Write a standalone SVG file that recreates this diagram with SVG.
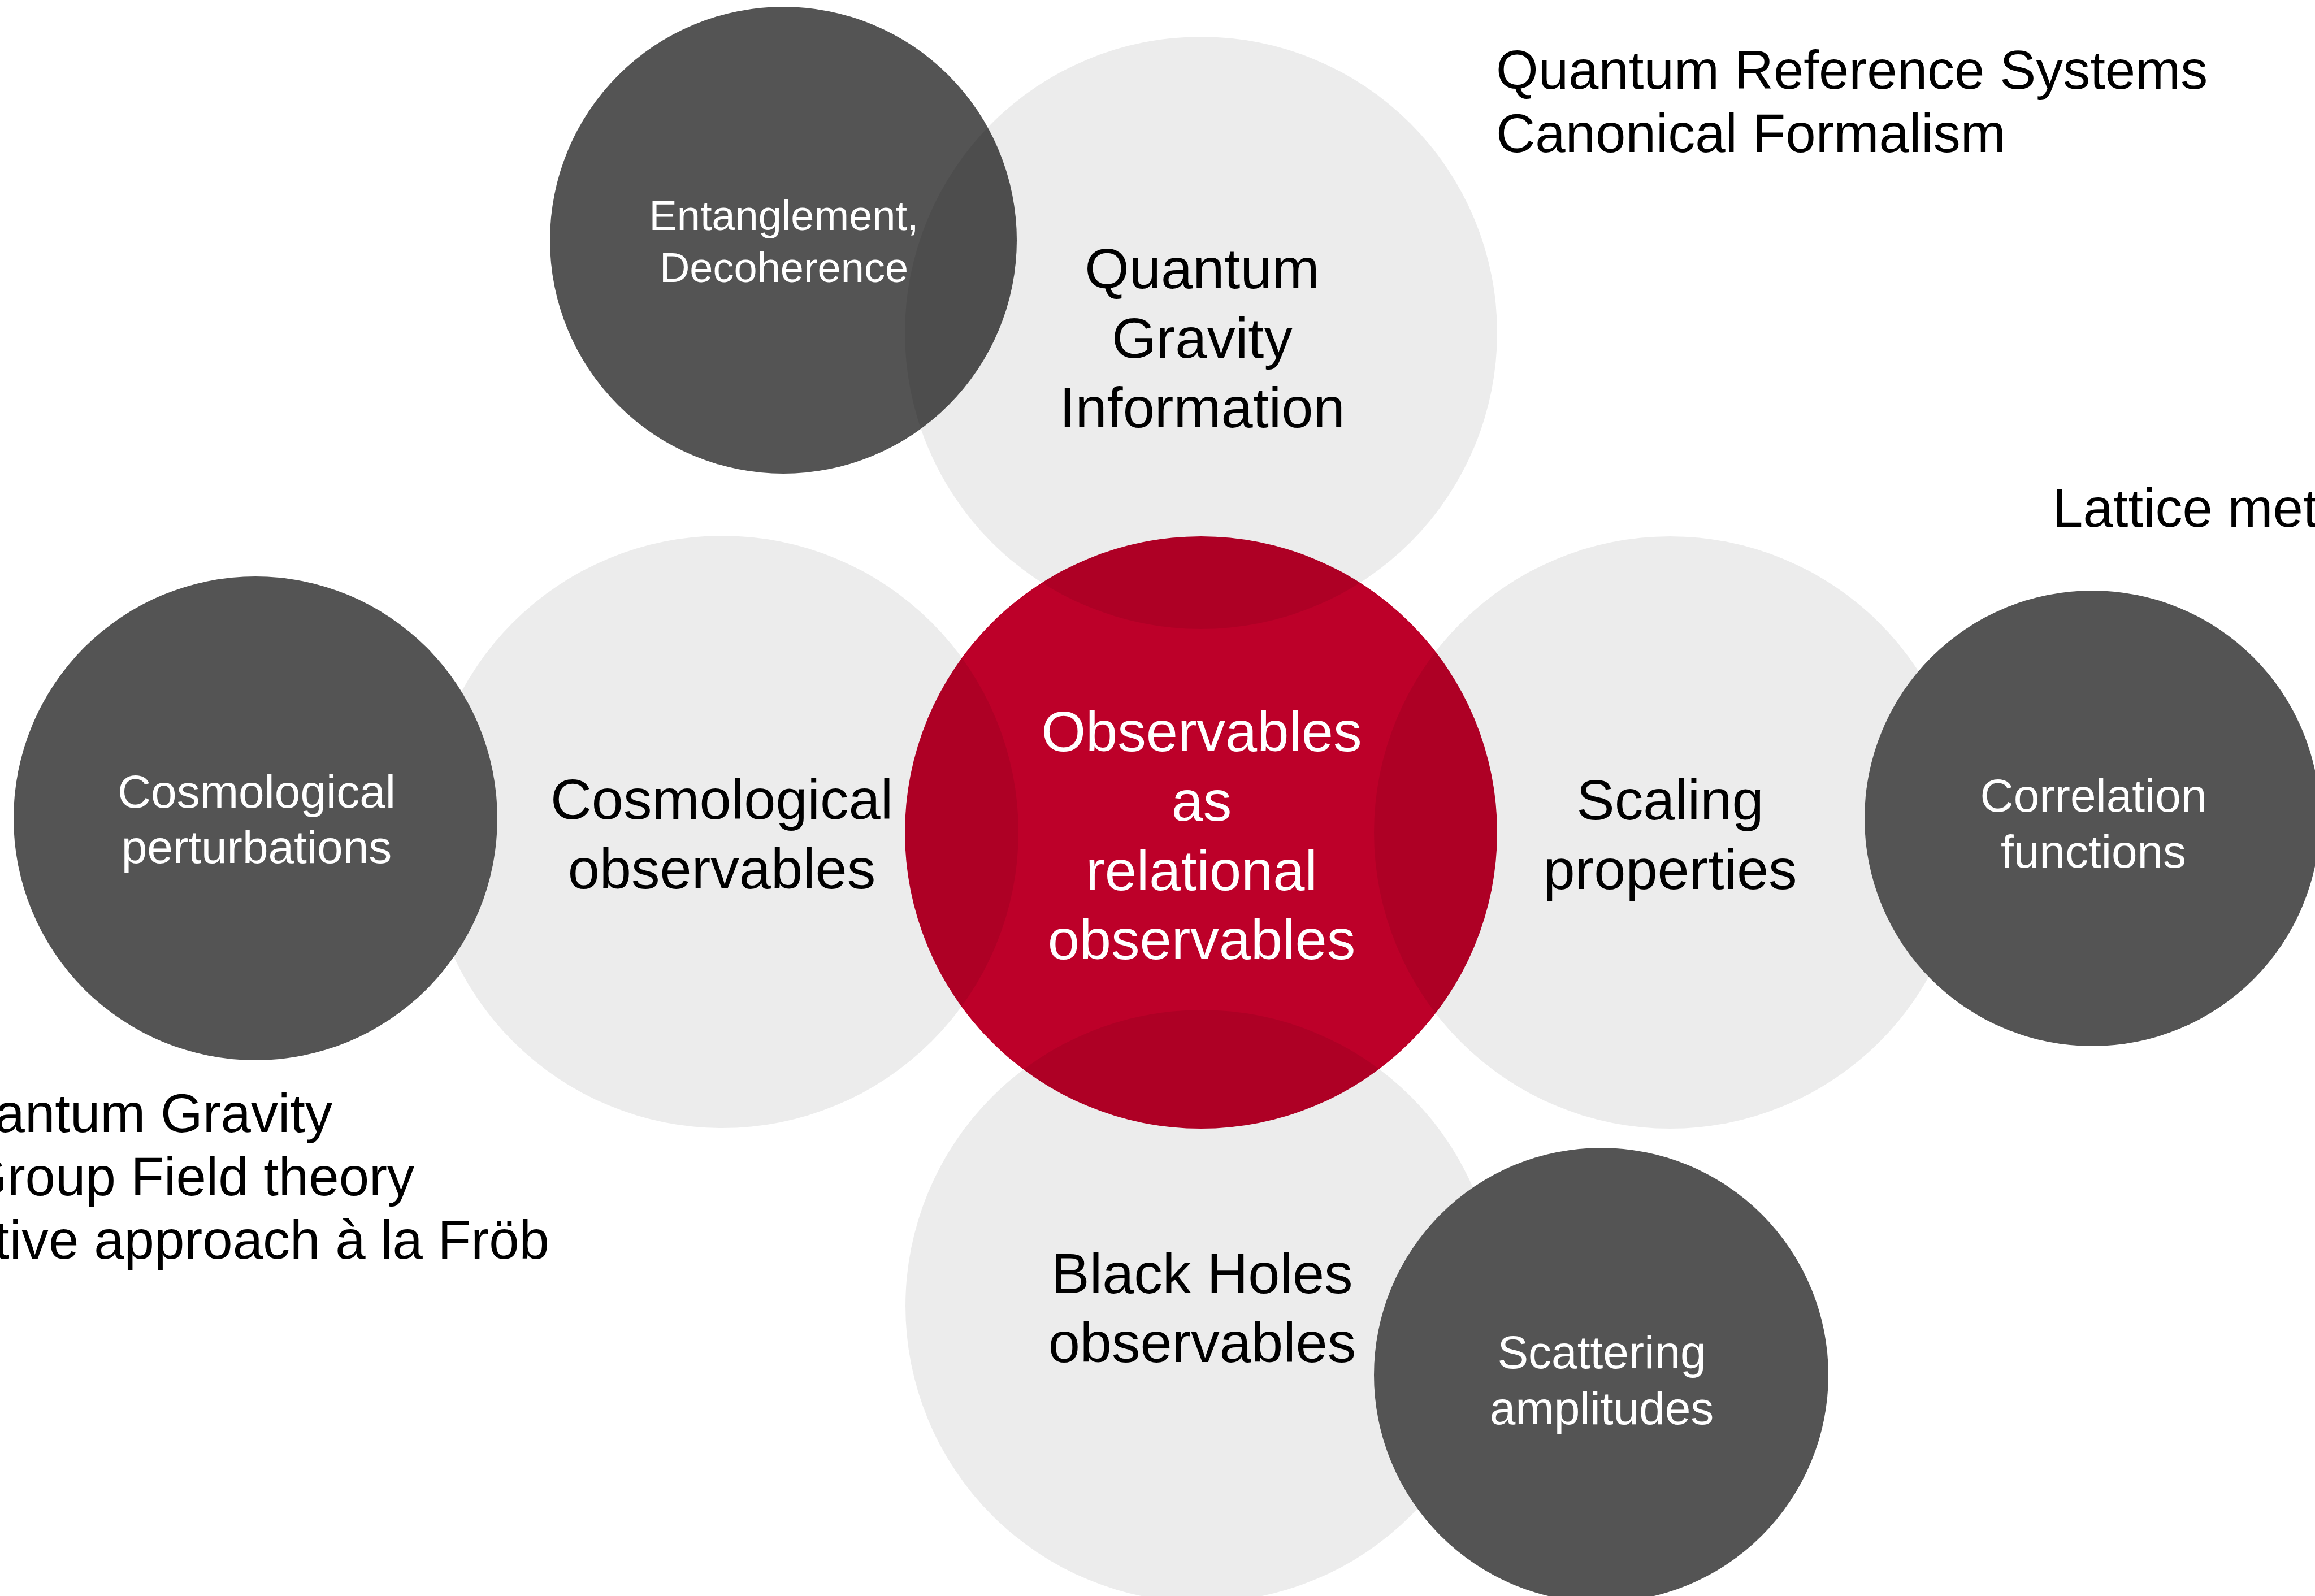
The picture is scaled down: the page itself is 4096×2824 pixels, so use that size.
<svg xmlns="http://www.w3.org/2000/svg" width="4096" height="2824" viewBox="0 0 4096 2824">
  <style>
    text { font-family: "Liberation Sans", Arial, Helvetica, sans-serif; }
    .core { fill: #bd0029; }
    .method { fill: #545454; }
    .topic { fill: #000000; fill-opacity: 0.075; }
    .core-label { fill: #ffffff; font-size: 101px; text-anchor: middle; }
    .topic-label { fill: #000000; font-size: 101px; text-anchor: middle; }
    .method-label { fill: #ffffff; font-size: 82px; text-anchor: middle; }
    .note { fill: #000000; font-size: 96px; }
  </style>

  <rect width="4096" height="2824" fill="#ffffff"/>

  <!-- central concept -->
  <g id="core-relational-observables">
    <circle class="core" cx="2125" cy="1473" r="524"/>
    <text class="core-label" x="2126" y="1329">Observables</text>
    <text class="core-label" x="2126" y="1452">as</text>
    <text class="core-label" x="2126" y="1575">relational</text>
    <text class="core-label" x="2126" y="1697">observables</text>
  </g>

  <!-- this disc sits beneath the translucent topic disc above it -->
  <g id="method-entanglement">
    <circle class="method" cx="1386" cy="425" r="413"/>
    <text class="method-label" style="font-size:74px" x="1387" y="407">Entanglement,</text>
    <text class="method-label" style="font-size:74px" x="1387" y="499">Decoherence</text>
  </g>

  <!-- topics (translucent discs) -->
  <g id="topic-qg-information">
    <circle class="topic" cx="2125" cy="589" r="524"/>
    <text class="topic-label" x="2127" y="510">Quantum</text>
    <text class="topic-label" x="2127" y="633">Gravity</text>
    <text class="topic-label" x="2127" y="756">Information</text>
  </g>
  <g id="topic-cosmological-observables">
    <circle class="topic" cx="1278" cy="1472" r="524"/>
    <text class="topic-label" x="1277" y="1449">Cosmological</text>
    <text class="topic-label" x="1277" y="1572">observables</text>
  </g>
  <g id="topic-scaling-properties">
    <circle class="topic" cx="2955" cy="1473" r="524"/>
    <text class="topic-label" x="2955" y="1450">Scaling</text>
    <text class="topic-label" x="2955" y="1573">properties</text>
  </g>
  <g id="topic-black-holes">
    <circle class="topic" cx="2126" cy="2311" r="524"/>
    <text class="topic-label" x="2127" y="2288">Black Holes</text>
    <text class="topic-label" x="2127" y="2410">observables</text>
  </g>

  <!-- methods (opaque dark discs over the topics) -->
  <g id="method-cosmological-perturbations">
    <circle class="method" cx="452" cy="1448" r="428"/>
    <text class="method-label" x="454" y="1429">Cosmological</text>
    <text class="method-label" x="454" y="1527">perturbations</text>
  </g>
  <g id="method-correlation-functions">
    <circle class="method" cx="3702" cy="1448" r="403"/>
    <text class="method-label" x="3704" y="1436">Correlation</text>
    <text class="method-label" x="3704" y="1535">functions</text>
  </g>
  <g id="method-scattering-amplitudes">
    <circle class="method" cx="2833" cy="2433" r="402"/>
    <text class="method-label" x="2834" y="2421">Scattering</text>
    <text class="method-label" x="2834" y="2520">amplitudes</text>
  </g>

  <!-- free-standing notes -->
  <g id="note-top-right">
    <text class="note" x="2647" y="157">Quantum Reference Systems</text>
    <text class="note" x="2647" y="269">Canonical Formalism</text>
  </g>
  <g id="note-right">
    <text class="note" x="3632" y="932">Lattice met</text>
  </g>
  <g id="note-left" style="text-anchor:end">
    <text class="note" x="588" y="2003">antum Gravity</text>
    <text class="note" x="733" y="2115">Group Field theory</text>
    <text class="note" x="972" y="2227">tive approach à la Fröb</text>
  </g>

  <!-- no connectors in this figure -->
  <g id="connectors"/>
</svg>
